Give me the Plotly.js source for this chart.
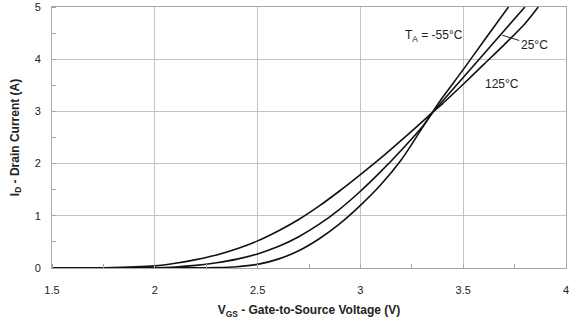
<!DOCTYPE html>
<html><head><meta charset="utf-8">
<script src="https://cdn.plot.ly/plotly-3.0.1.min.js"></script>
<style>html,body{margin:0;padding:0;background:#fff}#c{width:574px;height:326px}</style>
</head><body><div id="c"></div>
<script>
// Gate voltage samples (V) and drain current (A) per ambient temperature
const vgsM55 = [1.5, 2.2, 2.3, 2.4, 2.5, 2.6, 2.7, 2.8, 2.9, 3.0, 3.1, 3.2, 3.3, 3.35, 3.4, 3.5, 3.6, 3.72];
const idM55  = [0, 0.002, 0.008, 0.025, 0.07, 0.17, 0.33, 0.56, 0.85, 1.2, 1.6, 2.08, 2.68, 2.98, 3.27, 3.8, 4.35, 5.0];

const vgs25 = [1.5, 2.0, 2.1, 2.2, 2.3, 2.4, 2.5, 2.6, 2.7, 2.8, 2.9, 3.0, 3.1, 3.2, 3.3, 3.35, 3.4, 3.5, 3.6, 3.7, 3.8];
const id25  = [0, 0.005, 0.02, 0.05, 0.1, 0.17, 0.27, 0.41, 0.6, 0.84, 1.13, 1.47, 1.85, 2.26, 2.7, 2.97, 3.2, 3.65, 4.1, 4.55, 5.0];

const vgs125 = [1.5, 1.75, 2.0, 2.1, 2.2, 2.3, 2.4, 2.5, 2.6, 2.7, 2.8, 2.9, 3.0, 3.1, 3.2, 3.3, 3.35, 3.4, 3.5, 3.6, 3.7, 3.8, 3.865];
const id125  = [0, 0.005, 0.04, 0.09, 0.16, 0.25, 0.37, 0.52, 0.71, 0.93, 1.19, 1.48, 1.79, 2.11, 2.45, 2.8, 2.98, 3.15, 3.52, 3.9, 4.28, 4.68, 5.0];

const xTicks = [1.5, 2, 2.5, 3, 3.5, 4];
const xTickText = ['1.5', '2', '2.5', '3', '3.5', '4'];
const yTicks = [0, 1, 2, 3, 4, 5];
const yTickText = ['0', '1', '2', '3', '4', '5'];

const lineStyle = {color: '#111', width: 1.6, shape: 'spline', smoothing: 0.8};
const traces = [
  {x: vgsM55, y: idM55, mode: 'lines', line: lineStyle, name: '-55°C', hoverinfo: 'skip'},
  {x: vgs25, y: id25, mode: 'lines', line: lineStyle, name: '25°C', hoverinfo: 'skip'},
  {x: vgs125, y: id125, mode: 'lines', line: lineStyle, name: '125°C', hoverinfo: 'skip'}
];

const font = {family: 'Liberation Sans, Arial, sans-serif', size: 11, color: '#222'};
const annFont = {family: font.family, size: 12, color: '#222'};
const layout = {
  width: 574, height: 326,
  margin: {l: 52, r: 8, t: 7, b: 58},
  paper_bgcolor: '#fff', plot_bgcolor: '#fff',
  showlegend: false,
  font: font,
  xaxis: {
    range: [1.5, 4], tickvals: xTicks, ticktext: xTickText,
    showgrid: true, gridcolor: '#c4c4c4', gridwidth: 1,
    zeroline: false, showline: true, linecolor: '#a8a8a8', linewidth: 1, mirror: true,
    ticks: '', ticklabelstandoff: 12,
    minor: {dtick: 0.25, tick0: 1.5, ticks: 'inside', ticklen: 4, tickcolor: '#a8a8a8', showgrid: false},
    title: {text: '<b>V<sub>GS</sub> - Gate-to-Source Voltage (V)</b>', font: {family: font.family, size: 12, color: '#222'}, standoff: 10}
  },
  yaxis: {
    range: [0, 5], tickvals: yTicks, ticktext: yTickText,
    showgrid: true, gridcolor: '#c4c4c4', gridwidth: 1,
    zeroline: false, showline: true, linecolor: '#a8a8a8', linewidth: 1, mirror: true,
    ticks: '', ticklabelstandoff: 8,
    minor: {dtick: 0.5, tick0: 0, ticks: 'inside', ticklen: 4, tickcolor: '#a8a8a8', showgrid: false},
    title: {text: '<b>I<sub>D</sub> - Drain Current (A)</b>', font: {family: font.family, size: 12, color: '#222'}, standoff: 12}
  },
  annotations: [
    {x: 3.36, y: 4.44, xref: 'x', yref: 'y', text: 'T<sub>A</sub> = -55°C', showarrow: false, font: annFont},
    {x: 3.69, y: 4.46, xref: 'x', yref: 'y', text: '25°C', showarrow: true, arrowhead: 0, arrowwidth: 1, arrowcolor: '#222',
     ax: 32, ay: 10, font: annFont},
    {x: 3.69, y: 3.52, xref: 'x', yref: 'y', text: '125°C', showarrow: false, font: annFont}
  ]
};
Plotly.newPlot('c', traces, layout, {staticPlot: true, displayModeBar: false});
</script>
</body></html>
